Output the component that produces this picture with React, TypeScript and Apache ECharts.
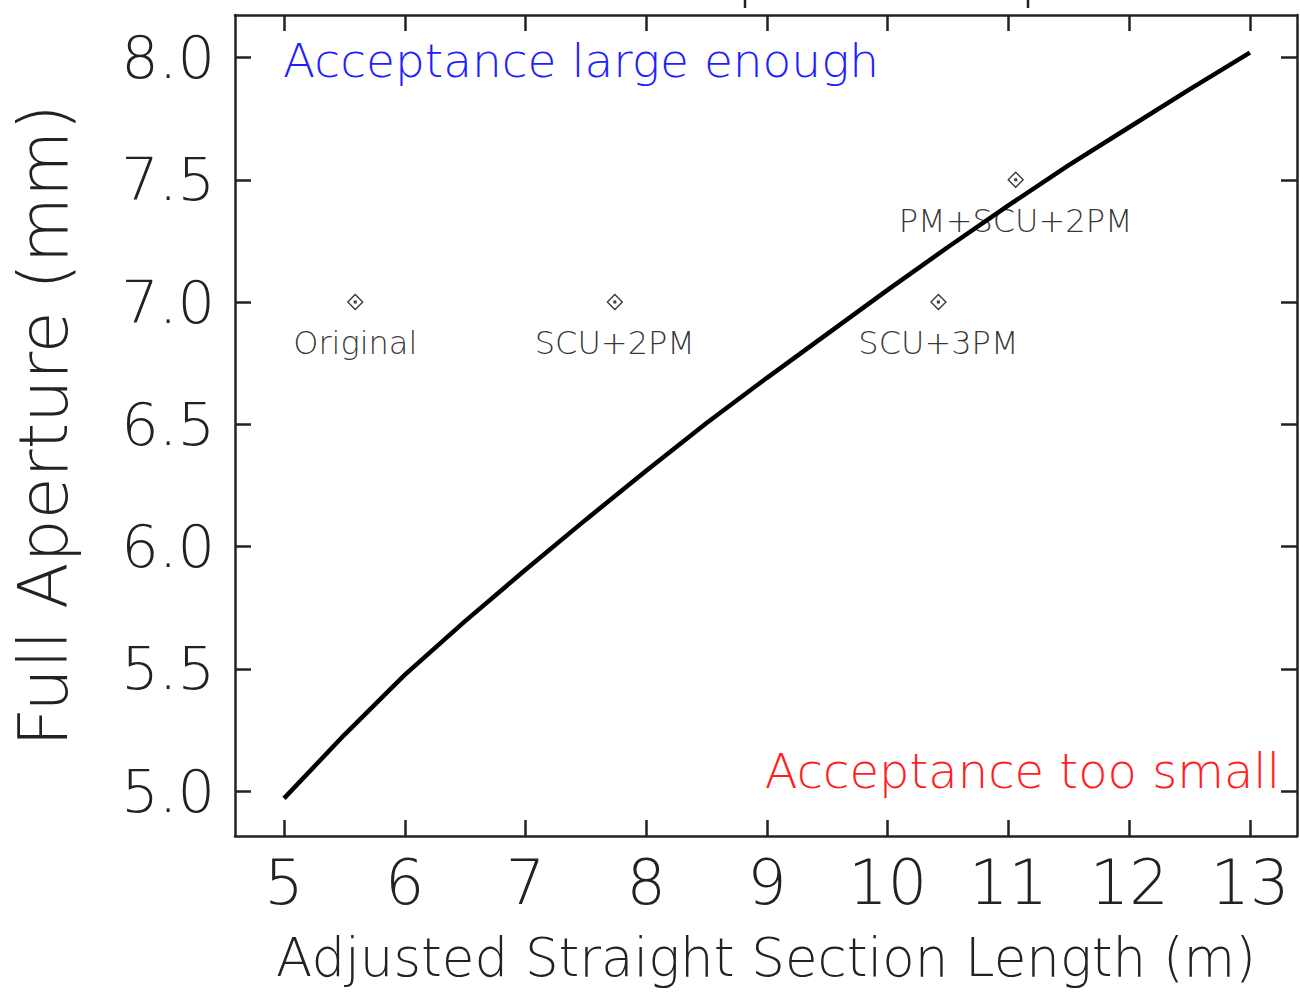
import React, { useEffect, useRef } from "react";
import * as echarts from "echarts";

// Tick values
const xTicks = [5, 6, 7, 8, 9, 10, 11, 12, 13];
const yTicks = [5.0, 5.5, 6.0, 6.5, 7.0, 7.5, 8.0];

// Curve: full aperture vs adjusted straight section length
const curveX = [5, 5.5, 6, 6.5, 7, 7.5, 8, 8.5, 9, 9.5, 10, 10.5, 11, 11.5, 12, 12.5, 13];
const curveY = [4.97, 5.23, 5.475, 5.695, 5.905, 6.11, 6.31, 6.505, 6.69, 6.87, 7.05, 7.225, 7.395, 7.56, 7.715, 7.87, 8.02];

// Configuration points
const pointNames = ["Original", "SCU+2PM", "SCU+3PM", "PM+SCU+2PM"];
const pointX = [5.59, 7.74, 10.42, 11.06];
const pointY = [7.0, 7.0, 7.0, 7.5];

const AXIS_COLOR = "#222";
const FONT = "DejaVu Sans";

export default function App() {
  const ref = useRef<HTMLDivElement>(null);

  useEffect(() => {
    if (!ref.current) return;
    const chart = echarts.init(ref.current, undefined, { renderer: "svg" });

    const axisLine = { show: true, lineStyle: { color: AXIS_COLOR, width: 2.5 } };
    const tick = (vals: number[]) => ({
      show: true,
      inside: true,
      length: 16,
      customValues: vals,
      lineStyle: { color: AXIS_COLOR, width: 2.5 },
    });

    const option: any = {
      animation: false,
      backgroundColor: "#fff",
      grid: {
        left: 235,
        right: 3,
        top: 15,
        bottom: 159,
        containLabel: false,
        outerBoundsMode: "none",
      },
      xAxis: [
        {
          type: "value",
          position: "bottom",
          min: 4.594,
          max: 13.39,
          axisLine,
          axisTick: tick(xTicks),
          splitLine: { show: false },
          axisLabel: {
            customValues: xTicks,
            fontFamily: FONT,
            fontWeight: 200,
            fontSize: 62,
            color: AXIS_COLOR,
            margin: 15,
          },
          name: "Adjusted Straight Section Length (m)",
          nameLocation: "middle",
          nameGap: 95,
          nameTextStyle: {
            fontFamily: FONT,
            fontWeight: 200,
            fontSize: 53,
            color: AXIS_COLOR,
          },
        },
        {
          type: "value",
          position: "top",
          min: 4.594,
          max: 13.39,
          axisLine,
          axisTick: tick(xTicks),
          splitLine: { show: false },
          axisLabel: { show: false },
        },
      ],
      yAxis: [
        {
          type: "value",
          position: "left",
          min: 4.816,
          max: 8.174,
          axisLine,
          axisTick: tick(yTicks),
          splitLine: { show: false },
          axisLabel: {
            customValues: yTicks,
            formatter: (v: number) => v.toFixed(1),
            fontFamily: FONT,
            fontWeight: 200,
            fontSize: 59,
            color: AXIS_COLOR,
            margin: 20,
          },
          name: "Full Aperture (mm)",
          nameLocation: "middle",
          nameRotate: 90,
          nameGap: 158,
          nameTextStyle: {
            fontFamily: FONT,
            fontWeight: 200,
            fontSize: 68,
            color: AXIS_COLOR,
          },
        },
        {
          type: "value",
          position: "right",
          min: 4.816,
          max: 8.174,
          axisLine,
          axisTick: tick(yTicks),
          splitLine: { show: false },
          axisLabel: { show: false },
        },
      ],
      series: [
        {
          type: "line",
          data: curveX.map((x, i) => [x, curveY[i]]),
          showSymbol: false,
          symbol: "none",
          lineStyle: { color: "#000", width: 4.5 },
          z: 3,
        },
        {
          type: "scatter",
          data: pointNames.map((n, i) => ({ name: n, value: [pointX[i], pointY[i]] })),
          symbol: "path://M0 -7 L7 0 L0 7 L-7 0 Z M-0.8 -0.8 L0.8 -0.8 L0.8 0.8 L-0.8 0.8 Z",
          symbolSize: 15,
          itemStyle: { color: "#fff", borderColor: "#000", borderWidth: 1.3 },
          label: {
            show: true,
            position: "bottom",
            distance: 17,
            formatter: (p: any) => p.name,
            fontFamily: FONT,
            fontWeight: 200,
            fontSize: 32,
            color: "#000",
          },
          z: 2,
        },
      ],
      graphic: [
        {
          type: "text",
          left: 283,
          top: 37,
          style: {
            text: "Acceptance large enough",
            fontFamily: FONT,
            fontWeight: 200,
            fontSize: 47,
            fill: "#1e1eff",
          },
        },
        {
          type: "text",
          right: 20,
          top: 747,
          style: {
            text: "Acceptance too small",
            fontFamily: FONT,
            fontWeight: 200,
            fontSize: 48,
            fill: "#ff1e1e",
          },
        },
        {
          type: "line",
          shape: { x1: 745, y1: 0, x2: 745, y2: 8 },
          style: { stroke: AXIS_COLOR, lineWidth: 2.5 },
        },
        {
          type: "line",
          shape: { x1: 1028, y1: 0, x2: 1028, y2: 8 },
          style: { stroke: AXIS_COLOR, lineWidth: 2.5 },
        },
      ],
    };

    chart.setOption(option);
    return () => chart.dispose();
  }, []);

  return (
    <div
      ref={ref}
      style={{ position: "absolute", left: 0, top: 0, width: 1300, height: 995 }}
    />
  );
}
